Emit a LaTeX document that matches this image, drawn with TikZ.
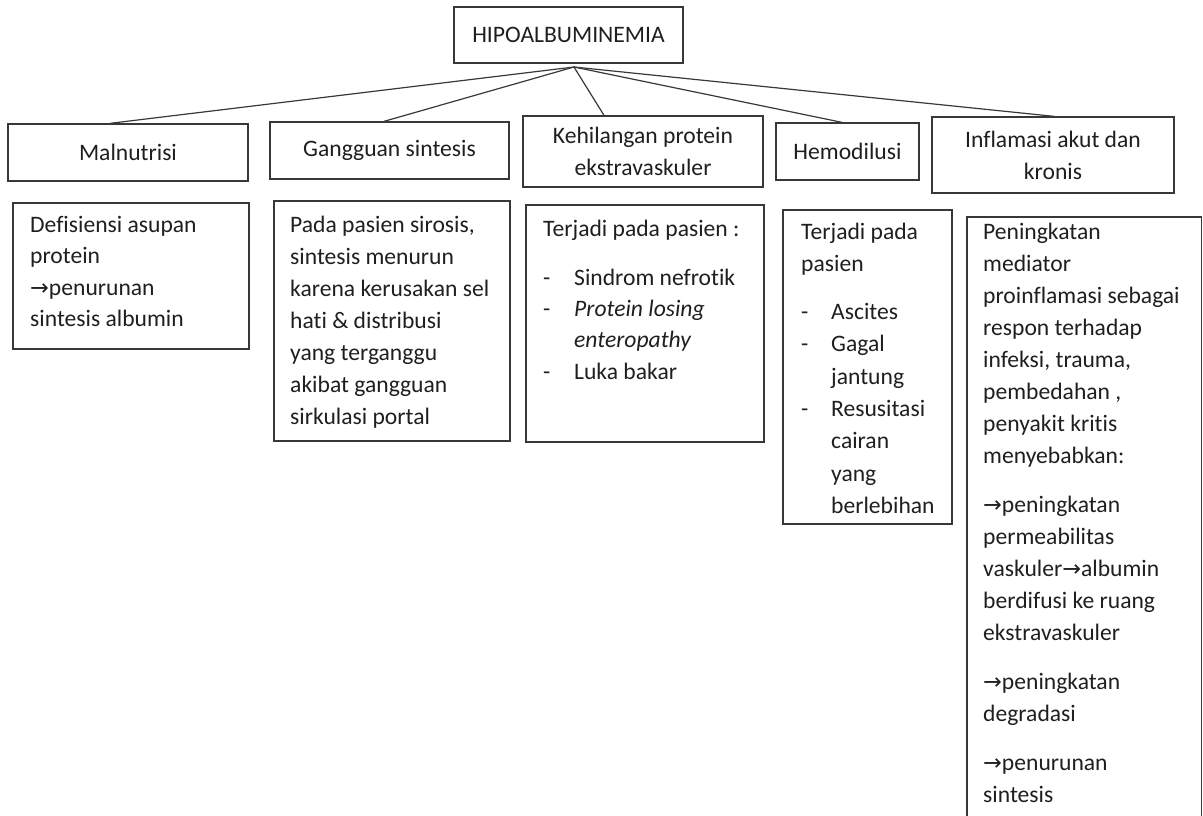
\documentclass[tikz,border=0pt]{standalone}
\usepackage{fontspec}
\setmainfont{Carlito}[RawFeature={-liga;-dlig}]
\newfontfamily\arrowfont{DejaVu Sans}[Scale=0.95]
\newcommand{\rarr}{{\arrowfont\char"2192}}
\newcommand{\cf}{\fontsize{23.6}{32}\selectfont}
\hbadness=10000 \hfuzz=200pt
\tikzset{
  cat/.style={draw=black!78, line width=1.3pt, align=center, inner sep=0pt, font=\cf, text=black!88},
  detbox/.style={draw=black!78, line width=1.3pt, inner sep=0pt},
  dettext/.style={anchor=base west, inner sep=0pt, text=black!88},
  conn/.style={draw=black!78, line width=1.2pt},
}
\begin{document}
\begin{tikzpicture}[x=1pt,y=-1pt]
\useasboundingbox (0,0) rectangle (1203,815);
% top node
\node[cat, minimum width=229pt, minimum height=56pt] (hipo) at (568.5,35) {HIPOALBUMINEMIA};
\coordinate (hub) at (574,67);
% categories
\node[cat, minimum width=240pt, minimum height=57pt] (mal) at (128,152.5) {Malnutrisi};
\node[cat, minimum width=239pt, minimum height=57pt] (gang) at (389.5,150.5) {Gangguan sintesis};
\node[cat, minimum width=240pt, minimum height=71pt] (keh) at (643,151.5) {Kehilangan protein\\ekstravaskuler};
\node[cat, minimum width=143pt, minimum height=57pt] (hemo) at (847.5,151.5) {Hemodilusi};
\node[cat, minimum width=242pt, minimum height=76pt] (infl) at (1053,155) {Inflamasi akut dan\\kronis};
% connectors
\draw[conn] (hub) -- (110,0 |- mal.north);
\draw[conn] (hub) -- (384,0 |- gang.north);
\draw[conn] (hub) -- (604,0 |- keh.north);
\draw[conn] (hub) -- (842,0 |- hemo.north);
\draw[conn] (hub) -- (1054,0 |- infl.north);
% detail boxes
\node[detbox, minimum width=236pt, minimum height=146pt] (d1) at (131,276) {};
\node[detbox, minimum width=236pt, minimum height=240pt] (d2) at (392,321) {};
\node[detbox, minimum width=238pt, minimum height=237pt] (d3) at (645,323.5) {};
\node[detbox, minimum width=169pt, minimum height=314pt] (d4) at (867.5,367) {};
\coordinate (d5bl) at (967,817);
\coordinate (d5tl) at (967,217);
\coordinate (d5tr) at (1201.5,217);
\coordinate (d5br) at (1201.5,817);
\draw[draw=black!78, line width=1.3pt] (d5bl) -- (d5tl) -- (d5tr) -- (d5br);
% texts
\node[dettext] (t1) at (30,232) {\parbox[t]{230pt}{\fontsize{23.6}{31.5}\selectfont\raggedright
Defisiensi asupan\\
protein\\
\rarr penurunan\\
sintesis albumin}};
\node[dettext] (t2) at (290,232) {\parbox[t]{230pt}{\cf\raggedright
Pada pasien sirosis,\\
sintesis menurun\\
karena kerusakan sel\\
hati \& distribusi\\
yang terganggu\\
akibat gangguan\\
sirkulasi portal}};
\node[dettext] (t3) at (543,236) {\parbox[t]{230pt}{\fontsize{23.6}{31.3}\selectfont\raggedright
Terjadi pada pasien :\\[18pt]
\makebox[31pt][l]{-}Sindrom nefrotik\\
\makebox[31pt][l]{-}\textit{Protein losing}\\
\hspace*{31pt}\textit{enteropathy}\\
\makebox[31pt][l]{-}Luka bakar}};
\node[dettext] (t4) at (801,239) {\parbox[t]{160pt}{\fontsize{23.6}{32.3}\selectfont\raggedright
Terjadi pada\\
pasien\\[16pt]
\makebox[30pt][l]{-}Ascites\\
\makebox[30pt][l]{-}Gagal\\
\hspace*{30pt}jantung\\
\makebox[30pt][l]{-}Resusitasi\\
\hspace*{30pt}cairan\\
\hspace*{30pt}yang\\
\hspace*{30pt}berlebihan}};
\node[dettext] (t5) at (983,239) {\parbox[t]{220pt}{\cf\raggedright
Peningkatan\\
mediator\\
proinflamasi sebagai\\
respon terhadap\\
infeksi, trauma,\\
pembedahan ,\\
penyakit kritis\\
menyebabkan:\\[17pt]
\rarr peningkatan\\
permeabilitas\\
vaskuler\rarr albumin\\
berdifusi ke ruang\\
ekstravaskuler\\[17pt]
\rarr peningkatan\\
degradasi\\[17pt]
\rarr penurunan\\
sintesis}};
\end{tikzpicture}
\end{document}
